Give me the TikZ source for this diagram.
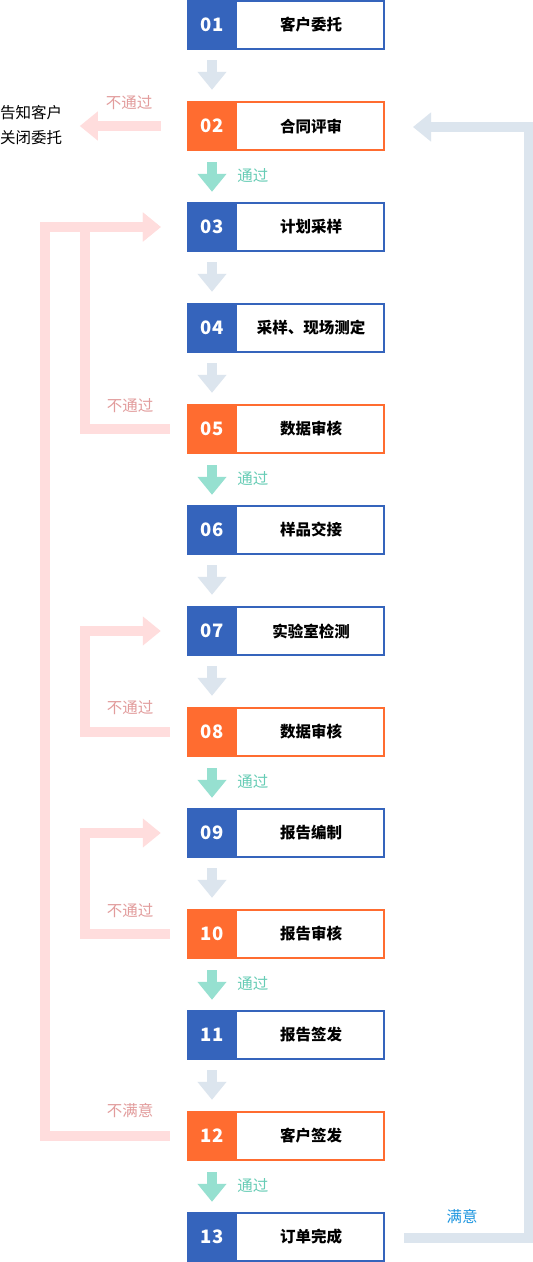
\documentclass[tikz,border=0pt]{standalone}
\usepackage{fontspec}
\setmainfont{Noto Sans CJK SC}
\usetikzlibrary{arrows.meta,calc}
\definecolor{cblue}{HTML}{3564BC}
\definecolor{corange}{HTML}{FF6C30}
\definecolor{cgray}{HTML}{DCE5EE}
\definecolor{cgreen}{HTML}{96E0D0}
\definecolor{cpink}{HTML}{FFDDDD}
\definecolor{tpink}{HTML}{E29C9C}
\definecolor{tgreen}{HTML}{66CCB5}
\definecolor{tblue}{HTML}{1E96DF}
\tikzset{
  boxframe/.style={draw, line width=2pt, minimum width=196pt, minimum height=48pt, inner sep=0pt, fill=white},
  numbox/.style={minimum width=50pt, minimum height=50pt, inner sep=0pt, text=white, font=\bfseries\fontsize{18.5}{20}\selectfont},
  labtext/.style={inner sep=0pt, font=\bfseries\fontsize{15.5}{18}\selectfont},
  fatarrow/.style={line width=10pt, line join=miter, -{Triangle[length=18pt,width=28pt]}},
  sidetext/.style={inner sep=0pt, font=\fontsize{15.5}{25}\selectfont},
}
\begin{document}
\begin{tikzpicture}[x=1pt,y=-1pt]
\fill[white] (0,0) rectangle (533,1262);
\useasboundingbox (0,0) rectangle (533,1262);
\foreach \i/\lab/\col in {1/客户委托/cblue,2/合同评审/corange,3/计划采样/cblue,4/采样、现场测定/cblue,5/数据审核/corange,6/样品交接/cblue,7/实验室检测/cblue,8/数据审核/corange,9/报告编制/cblue,10/报告审核/corange,11/报告签发/cblue,12/客户签发/corange,13/订单完成/cblue}{
  \pgfmathsetmacro{\yc}{101*(\i-1)+25}
  \node[boxframe, draw=\col] (b\i) at (286,\yc) {};
  \node[numbox, fill=\col] (n\i) at (212,\yc) {\ifnum\i<10 0\fi\i};
  \node[labtext] (l\i) at (311,\yc) {\lab};
}
% plain (gray) steps
\foreach \a/\b in {1/2,3/4,4/5,6/7,7/8,9/10,11/12}{
  \draw[fatarrow, cgray] ([yshift=-10pt]n\a.south) -- ([yshift=11pt]n\b.north);
}
% passed (green) steps
\foreach \a/\b in {2/3,5/6,8/9,10/11,12/13}{
  \draw[fatarrow, cgreen] ([yshift=-11pt]n\a.south) -- ([yshift=10pt]n\b.north);
  \node[sidetext, text=tgreen, anchor=west] (pass\a) at ($(n\a.south east)!0.5!(n\b.north east)+(0,-1)$) {通过};
}
% 02 rejected
\draw[fatarrow, cpink] ([xshift=-26pt]n2.west) -- ++(-81,0) coordinate (rejtip);
\node[sidetext, text=tpink] (rej2) at (129,103) {不通过};
\node[sidetext, anchor=west, align=left] (close) at (0,125.5) {告知客户\\关闭委托};
% loops back
\draw[fatarrow, cpink] ([xshift=-17pt]n5.west) -- ++(-85,0) |- ([xshift=-26pt]n3.west);
\draw[fatarrow, cpink] ([xshift=-17pt]n12.west) -- ++(-125,0) |- ([xshift=-26pt]n3.west);
\draw[fatarrow, cpink] ([xshift=-17pt]n8.west) -- ++(-85,0) |- ([xshift=-26pt]n7.west);
\draw[fatarrow, cpink] ([xshift=-17pt]n10.west) -- ++(-85,0) |- ([xshift=-26pt]n9.west);
\node[sidetext, text=tpink] (rej5) at (130,406) {不通过};
\node[sidetext, text=tpink] (rej8) at (130,708) {不通过};
\node[sidetext, text=tpink] (rej10) at (130,911) {不通过};
\node[sidetext, text=tpink] (rej12) at (130,1111) {不满意};
% satisfied return
\draw[fatarrow, cgray] ([xshift=19pt,yshift=-1pt]b13.east) -- ++(125,0) |- ([xshift=28pt,yshift=-1pt]b2.east);
\node[sidetext, text=tblue] (ok) at (462,1216) {满意};
\end{tikzpicture}
\end{document}
